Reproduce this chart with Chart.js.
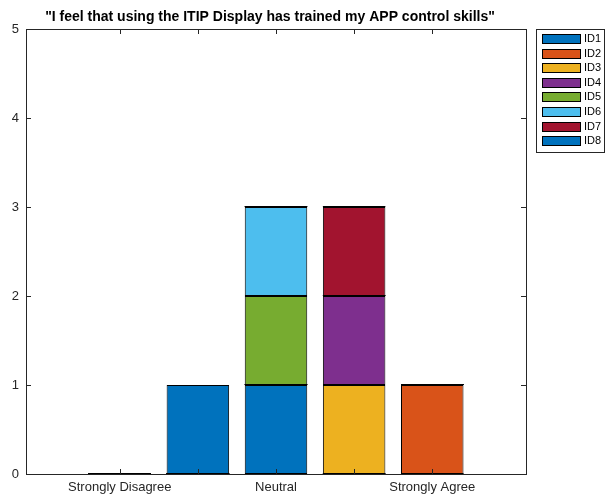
<!DOCTYPE html>
<html>
<head>
<meta charset="utf-8">
<script src="https://cdn.jsdelivr.net/npm/chart.js@4"></script>
<style>
html,body{margin:0;padding:0;background:#fff;}
#wrap{width:606px;height:500px;position:relative;}
</style>
</head>
<body>
<div id="wrap"><canvas id="c" width="606" height="500"></canvas></div>
<script>
const chartTitle = '"I feel that using the ITIP Display has trained my APP control skills"';
const categoryPositions = [1, 2, 3, 4, 5];
const tickLabels = ['Strongly Disagree', '', 'Neutral', '', 'Strongly Agree'];
const seriesNames = ['ID1', 'ID2', 'ID3', 'ID4', 'ID5', 'ID6', 'ID7', 'ID8'];
const ID1 = [0, 0, 1, 0, 0];
const ID2 = [0, 0, 0, 0, 1];
const ID3 = [0, 0, 0, 1, 0];
const ID4 = [0, 0, 0, 1, 0];
const ID5 = [0, 0, 1, 0, 0];
const ID6 = [0, 0, 1, 0, 0];
const ID7 = [0, 0, 0, 1, 0];
const ID8 = [0, 1, 0, 0, 0];
const seriesValues = [ID1, ID2, ID3, ID4, ID5, ID6, ID7, ID8];
const seriesColors = ['#0072BD', '#D95319', '#EDB120', '#7E2F8E', '#77AC30', '#4DBEEE', '#A2142F', '#0072BD'];
const yTicks = [0, 1, 2, 3, 4, 5];

const FONT = 'Liberation Sans, Arial, Helvetica, sans-serif';
const AXC = '#262626';

const datasets = seriesNames.map((name, i) => ({
  label: name,
  data: categoryPositions.map((x, j) => ({x: x, y: seriesValues[i][j]})),
  backgroundColor: seriesColors[i],
  borderColor: '#000',
  borderWidth: 1,
  borderSkipped: false,
  barPercentage: 1,
  categoryPercentage: 0.8
}));

const matlabPlugin = {
  id: 'matlab',
  afterDatasetsDraw(chart) {
    const ctx = chart.ctx;
    ctx.save();
    ctx.strokeStyle = '#000';
    ctx.lineWidth = 1;
    chart.data.datasets.forEach((ds, i) => {
      const meta = chart.getDatasetMeta(i);
      meta.data.forEach((el, j) => {
        if (ds.data[j].y === 0) {
          const y = Math.round(el.y) - 0.5;
          ctx.beginPath();
          ctx.moveTo(el.x - el.width / 2, y);
          ctx.lineTo(el.x + el.width / 2, y);
          ctx.stroke();
        }
      });
    });
    ctx.restore();
  },
  afterDraw(chart) {
    const ctx = chart.ctx;
    const a = chart.chartArea;
    const xs = chart.scales.x, ys = chart.scales.y;
    ctx.save();
    // axes box
    ctx.strokeStyle = AXC;
    ctx.lineWidth = 1;
    ctx.strokeRect(Math.round(a.left) + 0.5, Math.round(a.top) + 0.5, Math.round(a.right - a.left), Math.round(a.bottom - a.top));
    // inward ticks
    const tl = 5;
    ctx.beginPath();
    categoryPositions.forEach(v => {
      const px = Math.round(xs.getPixelForValue(v)) + 0.5;
      ctx.moveTo(px, a.bottom); ctx.lineTo(px, a.bottom - tl);
      ctx.moveTo(px, a.top); ctx.lineTo(px, a.top + tl);
    });
    yTicks.forEach(v => {
      const py = Math.round(ys.getPixelForValue(v)) + 0.5;
      ctx.moveTo(a.left, py); ctx.lineTo(a.left + tl, py);
      ctx.moveTo(a.right, py); ctx.lineTo(a.right - tl, py);
    });
    ctx.stroke();
    // title
    ctx.fillStyle = '#000';
    ctx.font = 'bold 14px ' + FONT;
    ctx.textAlign = 'center';
    ctx.textBaseline = 'middle';
    ctx.fillText(chartTitle, 270, 17);
    // legend
    const lx = 536, ly = 29, lw = 68, lh = 123;
    ctx.fillStyle = '#fff';
    ctx.fillRect(lx, ly, lw, lh);
    ctx.strokeStyle = AXC;
    ctx.strokeRect(lx + 0.5, ly + 0.5, lw, lh);
    ctx.font = '11px ' + FONT;
    ctx.textAlign = 'left';
    chart.data.datasets.forEach((ds, i) => {
      const cy = ly + 9 + i * 14.6;
      ctx.fillStyle = ds.backgroundColor;
      ctx.fillRect(542, Math.round(cy - 4), 38, 9);
      ctx.strokeStyle = '#000';
      ctx.strokeRect(542.5, Math.round(cy - 4) + 0.5, 38, 9);
      ctx.fillStyle = '#000';
      ctx.fillText(ds.label, 584, cy + 1);
    });
    ctx.restore();
  }
};

new Chart(document.getElementById('c'), {
  type: 'bar',
  data: { datasets: datasets },
  options: {
    responsive: false,
    animation: false,
    devicePixelRatio: 1,
    layout: { padding: { top: 29, right: 80, left: 0, bottom: 0 } },
    plugins: { legend: { display: false }, title: { display: false }, tooltip: { enabled: false } },
    scales: {
      x: {
        type: 'linear',
        stacked: true,
        min: -0.2,
        max: 6.2,
        offset: false,
        afterBuildTicks(scale) { scale.ticks = categoryPositions.map(v => ({value: v})); },
        afterFit(scale) { scale.height = 26; },
        grid: { display: false, drawTicks: false },
        border: { display: false },
        ticks: {
          autoSkip: false,
          maxRotation: 0,
          padding: 6,
          color: AXC,
          font: { family: FONT, size: 13 },
          callback: (v) => { const k = categoryPositions.indexOf(v); return k >= 0 ? tickLabels[k] : ''; }
        }
      },
      y: {
        stacked: true,
        min: 0,
        max: 5,
        afterBuildTicks(scale) { scale.ticks = yTicks.map(v => ({value: v})); },
        afterFit(scale) { scale.width = 26; },
        grid: { display: false, drawTicks: false },
        border: { display: false },
        ticks: {
          padding: 7,
          color: AXC,
          font: { family: FONT, size: 13 }
        }
      }
    }
  },
  plugins: [matlabPlugin]
});
</script>
</body>
</html>
